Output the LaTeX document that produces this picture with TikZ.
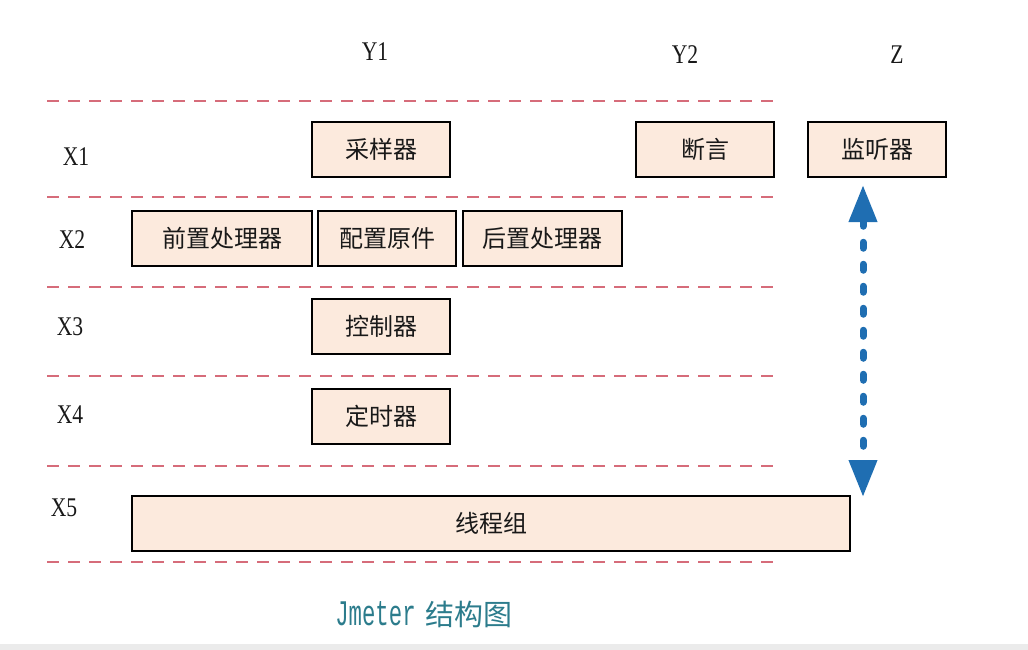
\documentclass[tikz,border=0pt]{standalone}
\usepackage{fontspec}
\usepackage{graphicx}
\setmainfont{Liberation Serif}
\newfontfamily\cjk{Noto Sans CJK SC}
\newfontfamily\capmono{Liberation Mono}
\usepackage{tikz}
\usetikzlibrary{shapes,arrows,arrows.meta}
\definecolor{peach}{RGB}{252,234,221}
\definecolor{sepred}{RGB}{214,108,122}
\definecolor{arrblue}{RGB}{31,110,178}
\definecolor{capteal}{RGB}{44,124,140}
\tikzstyle{block} = [rectangle, draw, line width=1.5pt, fill=peach,
    minimum width=138pt, minimum height=55pt, inner sep=0pt,
    font=\cjk\fontsize{24}{26}\selectfont, text=black!90]
\tikzstyle{axis} = [font=\fontsize{27}{29}\selectfont, text=black!90]
\tikzstyle{sep} = [draw, line width=2pt, color=sepred, dash pattern=on 12pt off 9pt]
\tikzstyle{line} = [draw, line width=7pt, color=arrblue, line cap=round,
    dash pattern=on 6pt off 16pt, {Triangle[length=37pt,width=27pt]}-{Triangle[length=37pt,width=27pt]}]
\newcommand{\ax}[1]{\scalebox{0.8}[1]{#1}}

\begin{document}
\begin{tikzpicture}[x=1pt, y=-1pt, node distance=2cm]
    \useasboundingbox (0,0) rectangle (1028,650);
    \fill[black!8] (0,644) rectangle (1028,650);

    % Separators
    \foreach \y in {101,197,287,376,466,562}
      \path[sep] (47,\y) -- (780,\y);

    % Axis labels
    \node [axis] (y1) at (375,52) {\ax{Y1}};
    \node [axis] (y2) at (685,55) {\ax{Y2}};
    \node [axis] (z) at (897,55) {\ax{Z}};
    \node [axis] (x1) at (76,157) {\ax{X1}};
    \node [axis] (x2) at (72,240) {\ax{X2}};
    \node [axis] (x3) at (70,327) {\ax{X3}};
    \node [axis] (x4) at (70,415) {\ax{X4}};
    \node [axis] (x5) at (64,508) {\ax{X5}};

    % Place nodes
    \node [block] (sampler) at (381,149.5) {采样器};
    \node [block, right of=sampler, node distance=324pt] (assertion) {断言};
    \node [block, right of=assertion, node distance=172pt] (listener) {监听器};
    \node [block, minimum width=180pt] (preProc) at (222,238.5) {前置处理器};
    \node [block, right of=preProc, node distance=165pt] (config) {配置原件};
    \node [block, minimum width=159pt, right of=config, node distance=155.5pt] (postProc) {后置处理器};
    \node [block, below of=sampler, node distance=177pt] (controller) {控制器};
    \node [block, below of=controller, node distance=90pt] (timer) {定时器};
    \node [block, minimum width=718pt] (threadGroup) at (491,523.5) {线程组};

    % Caption
    \node [text=capteal] (caption) at (424,614)
      {\scalebox{0.62}[1]{\capmono\fontsize{36}{38}\selectfont Jmeter}\hspace{10pt}{\cjk\fontsize{29}{31}\selectfont 结构图}};

    % Draw edges
    \coordinate (topEnd) at (863,185);
    \coordinate (botEnd) at (863,497);
    \path [line] (topEnd) -- (botEnd);
\end{tikzpicture}
\end{document}
